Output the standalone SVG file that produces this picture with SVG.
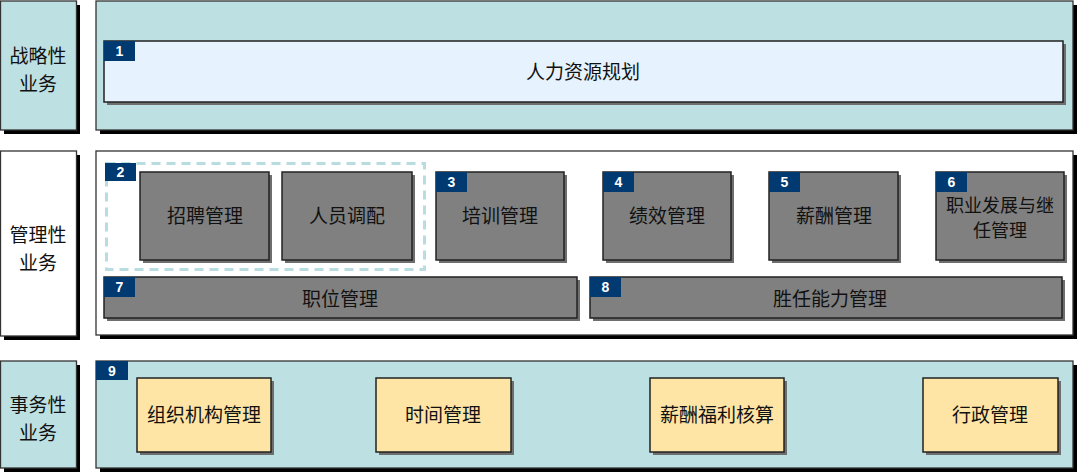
<svg xmlns="http://www.w3.org/2000/svg" width="1080" height="474" viewBox="0 0 1080 474">
<style>
.sh{fill:#000}
.ish{fill:#6e6e6e}
.teal{fill:#bde0e3;stroke:#333;stroke-width:1.3}
.white{fill:#fff;stroke:#333;stroke-width:1.3}
.lb{fill:#e6f2fd;stroke:#222;stroke-width:1.5}
.gray{fill:#808080;stroke:#222;stroke-width:1.5}
.yel{fill:#fee5a5;stroke:#222;stroke-width:1.5}
.badge{fill:#003a70}
.num{font-family:"Liberation Sans",Arial,sans-serif;font-weight:bold;font-size:14px;fill:#fff;text-anchor:middle}
.t{font-family:"Noto Sans CJK SC","Noto Sans",sans-serif;font-size:19px;fill:#111;text-anchor:middle}
.t6{font-family:"Noto Sans CJK SC","Noto Sans",sans-serif;font-size:18px;fill:#111;text-anchor:middle}
.lt{font-family:"Noto Sans CJK SC","Noto Sans",sans-serif;font-size:19px;fill:#111;text-anchor:middle}
.dash{fill:none;stroke:#b8dde0;stroke-width:3;stroke-dasharray:9 6}
</style>
<rect width="1080" height="474" fill="#fff"/>

<g id="row1-label">
<rect class="sh" x="4" y="5" width="76" height="129"/>
<rect class="teal" x="0.5" y="1" width="76" height="129"/>
<text class="lt" x="38" y="63">战略性</text>
<text class="lt" x="38" y="91">业务</text>
</g>
<g id="row1-panel">
<rect class="sh" x="100" y="5" width="977" height="129"/>
<rect class="teal" x="96" y="1" width="977" height="129"/>
</g>
<g id="node1">
<rect class="ish" x="107" y="44" width="959" height="61"/>
<rect class="lb" x="104" y="41" width="959" height="61"/>
<rect class="badge" x="104" y="41" width="31" height="20"/>
<text class="num" x="119.5" y="56">1</text>
<text class="t" x="583" y="79">人力资源规划</text>
</g>

<g id="row2-label">
<rect class="sh" x="4" y="155" width="76" height="185"/>
<rect class="white" x="0.5" y="151" width="76" height="185"/>
<text class="lt" x="38" y="242">管理性</text>
<text class="lt" x="38" y="270">业务</text>
</g>
<g id="row2-panel">
<rect class="sh" x="100" y="155" width="977" height="184"/>
<rect class="white" x="96" y="151" width="977" height="184"/>
</g>
<g id="group2">
<rect class="dash" x="106.5" y="163.5" width="318" height="106"/>
<rect class="badge" x="105" y="163" width="31" height="18"/>
<text class="num" x="120.5" y="177">2</text>
</g>
<g id="node-zhaopin">
<rect class="ish" x="143" y="175" width="129" height="88"/>
<rect class="gray" x="140" y="172" width="129" height="88"/>
<text class="t" x="205" y="223">招聘管理</text>
</g>
<g id="node-renyuan">
<rect class="ish" x="285" y="175" width="130" height="88"/>
<rect class="gray" x="282" y="172" width="130" height="88"/>
<text class="t" x="347" y="223">人员调配</text>
</g>
<g id="node3">
<rect class="ish" x="439" y="175" width="128" height="88"/>
<rect class="gray" x="436" y="172" width="128" height="88"/>
<rect class="badge" x="436" y="172" width="31" height="20"/>
<text class="num" x="451.5" y="187">3</text>
<text class="t" x="500" y="223">培训管理</text>
</g>
<g id="node4">
<rect class="ish" x="606" y="175" width="128" height="88"/>
<rect class="gray" x="603" y="172" width="128" height="88"/>
<rect class="badge" x="603" y="172" width="31" height="20"/>
<text class="num" x="618.5" y="187">4</text>
<text class="t" x="667" y="223">绩效管理</text>
</g>
<g id="node5">
<rect class="ish" x="772" y="175" width="129" height="88"/>
<rect class="gray" x="769" y="172" width="129" height="88"/>
<rect class="badge" x="769" y="172" width="31" height="20"/>
<text class="num" x="784.5" y="187">5</text>
<text class="t" x="834" y="223">薪酬管理</text>
</g>
<g id="node6">
<rect class="ish" x="939" y="175" width="128" height="88"/>
<rect class="gray" x="936" y="172" width="128" height="88"/>
<rect class="badge" x="936" y="172" width="31" height="20"/>
<text class="num" x="951.5" y="187">6</text>
<text class="t6" x="1000" y="212">职业发展与继</text>
<text class="t6" x="1000" y="237">任管理</text>
</g>
<g id="node7">
<rect class="ish" x="107" y="280" width="473" height="41"/>
<rect class="gray" x="104" y="277" width="473" height="41"/>
<rect class="badge" x="104" y="277" width="31" height="20"/>
<text class="num" x="119.5" y="292">7</text>
<text class="t" x="340" y="306">职位管理</text>
</g>
<g id="node8">
<rect class="ish" x="593" y="280" width="472" height="41"/>
<rect class="gray" x="590" y="277" width="472" height="41"/>
<rect class="badge" x="590" y="277" width="31" height="20"/>
<text class="num" x="605.5" y="292">8</text>
<text class="t" x="830" y="306">胜任能力管理</text>
</g>

<g id="row3-label">
<rect class="sh" x="4" y="365" width="76" height="107"/>
<rect class="teal" x="0.5" y="361" width="76" height="107"/>
<text class="lt" x="38" y="412">事务性</text>
<text class="lt" x="38" y="440">业务</text>
</g>
<g id="row3-panel">
<rect class="sh" x="100" y="365" width="977" height="107"/>
<rect class="teal" x="96" y="361" width="977" height="107"/>
<rect class="badge" x="96" y="361" width="32" height="19"/>
<text class="num" x="112" y="376">9</text>
</g>
<g id="node-zuzhi">
<rect class="ish" x="140" y="381" width="134" height="74"/>
<rect class="yel" x="137" y="378" width="134" height="74"/>
<text class="t" x="204" y="422">组织机构管理</text>
</g>
<g id="node-shijian">
<rect class="ish" x="379" y="381" width="135" height="74"/>
<rect class="yel" x="376" y="378" width="135" height="74"/>
<text class="t" x="443" y="422">时间管理</text>
</g>
<g id="node-xinchou">
<rect class="ish" x="653" y="381" width="134" height="74"/>
<rect class="yel" x="650" y="378" width="134" height="74"/>
<text class="t" x="717" y="422">薪酬福利核算</text>
</g>
<g id="node-xingzheng">
<rect class="ish" x="926" y="381" width="135" height="74"/>
<rect class="yel" x="923" y="378" width="135" height="74"/>
<text class="t" x="990" y="422">行政管理</text>
</g>
<g id="connectors"/>
</svg>
